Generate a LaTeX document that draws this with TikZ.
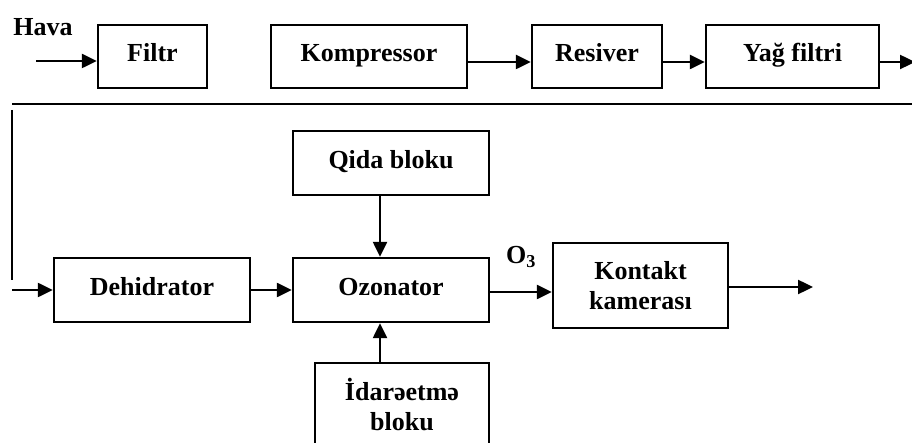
\documentclass[tikz,border=0pt]{standalone}
\usepackage{fontspec}
\setmainfont{Liberation Serif}
\usetikzlibrary{arrows.meta}
\begin{document}
\begin{tikzpicture}[x=1pt,y=-1pt,
  txt/.style={font=\fontsize{26}{30}\selectfont\bfseries,inner sep=0pt,align=center},
  box/.style={txt,draw,line width=2.4pt},
  onebox/.style={box,text height=18pt,text depth=7pt},
  arr/.style={line width=2.4pt,-{Triangle[length=15pt,width=14pt]}},
  ln/.style={line width=2.4pt}]
\useasboundingbox (0,0) rectangle (912,443);
% top row
\node[onebox,minimum width=109pt,minimum height=63pt] (filtr) at (152.5,56.5) {Filtr};
\node[onebox,minimum width=196pt,minimum height=63pt] (komp) at (369,56.5) {Kompressor};
\node[onebox,minimum width=130pt,minimum height=63pt] (res) at (597,56.5) {Resiver};
\node[onebox,minimum width=173pt,minimum height=63pt] (yag) at (792.5,56.5) {Yağ filtri};
\node[txt] (hava) at (43,27) {Hava};
\coordinate (havain) at (36,61);
\coordinate (rowy) at (0,62);
\coordinate (topout) at (915,62);
\draw[arr] (havain) -- (filtr.west |- havain);
\draw[arr] (komp.east |- rowy) -- (res.west |- rowy);
\draw[arr] (res.east |- rowy) -- (yag.west |- rowy);
\draw[arr] (yag.east |- topout) -- (topout);
% separator and return line
\coordinate (sepL) at (12,104);
\coordinate (sepR) at (912,104);
\coordinate (vtop) at (12,110);
\coordinate (vbot) at (12,280);
\coordinate (dehin) at (12,290);
\draw[ln] (sepL) -- (sepR);
\draw[ln] (vtop) -- (vbot);
% bottom part
\node[onebox,minimum width=196pt,minimum height=64pt] (dehid) at (152,290) {Dehidrator};
\node[onebox,minimum width=196pt,minimum height=64pt] (ozon) at (391,290) {Ozonator};
\node[onebox,minimum width=196pt,minimum height=64pt] (qida) at (391,163) {Qida bloku};
\node[box,minimum width=174pt,minimum height=84pt] (idare) at (402,405) {İdarəetmə\\bloku};
\node[box,minimum width=175pt,minimum height=85pt] (kont) at (640.5,285.5) {Kontakt\\kamerası};
\node[txt] (o3) at (521,257) {O\textsubscript{3}};
\coordinate (vx) at (380,0);
\coordinate (o3y) at (0,292);
\coordinate (kout) at (813,287);
\draw[arr] (dehin) -- (dehid.west |- dehin);
\draw[arr] (dehid.east) -- (ozon.west);
\draw[arr] (qida.south -| vx) -- (ozon.north -| vx);
\draw[arr] (idare.north -| vx) -- (ozon.south -| vx);
\draw[arr] (ozon.east |- o3y) -- (kont.west |- o3y);
\draw[arr] (kont.east |- kout) -- (kout);
\end{tikzpicture}
\end{document}
